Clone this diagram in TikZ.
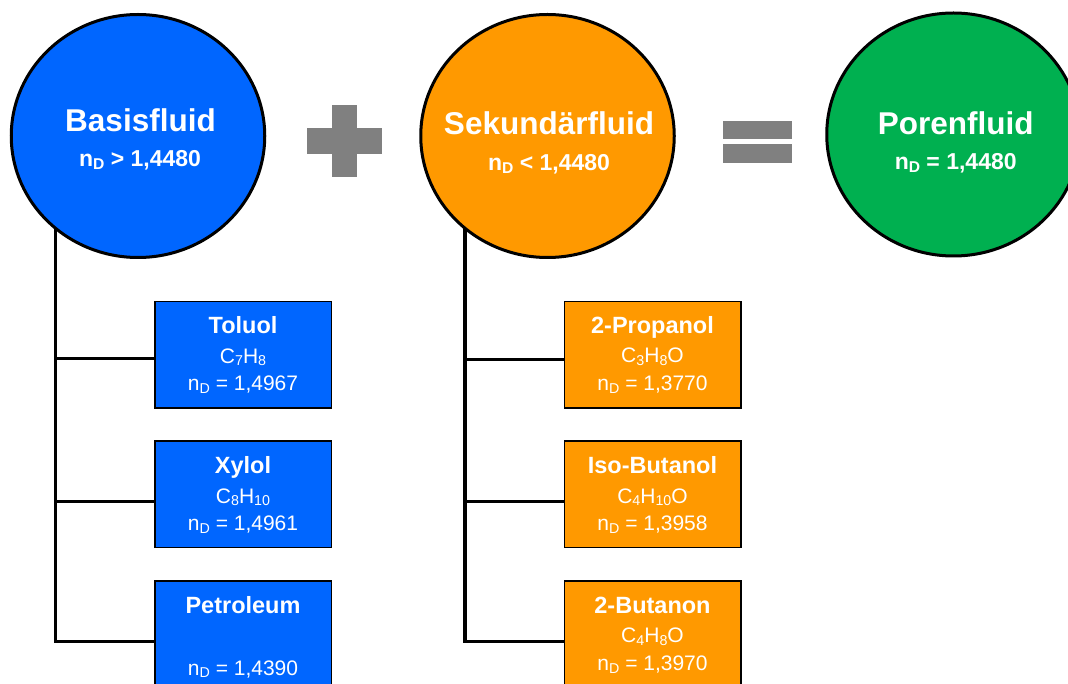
\documentclass[tikz,border=0pt]{standalone}
\usepackage{fontspec}
\setmainfont{Liberation Sans}
\usetikzlibrary{shapes.geometric,backgrounds}
\definecolor{cblue}{HTML}{0066FF}
\definecolor{corange}{HTML}{FF9900}
\definecolor{cgreen}{HTML}{00B050}
\definecolor{cgray}{HTML}{808080}
\newcommand{\lowr}[1]{\raisebox{-0.12em}{\scalebox{0.68}{#1}}}
\begin{document}
\begin{tikzpicture}[x=1pt,y=-1pt,
  fluid/.style={ellipse, draw=black, line width=3pt, minimum width=253.5pt, minimum height=243pt, inner sep=0pt},
  fbox/.style={rectangle, draw=black, line width=1.5pt, minimum width=176.5pt, minimum height=106.5pt, inner sep=0pt},
  tree/.style={line width=3.3pt, line join=miter, draw=black},
  ctitle/.style={text=white, font=\fontsize{31.5}{36}\selectfont\bfseries, anchor=base, inner sep=0pt},
  cval/.style={text=white, font=\fontsize{23}{27}\selectfont\bfseries, anchor=base, inner sep=0pt},
  btitle/.style={text=white, font=\fontsize{23.5}{27}\selectfont\bfseries, anchor=base, inner sep=0pt},
  bval/.style={text=white, font=\fontsize{21}{25}\selectfont, anchor=base, inner sep=0pt},
  sign/.style={fill=cgray}]
\clip (0,0) rectangle (1068,684);

% main circles
\node[fluid, fill=cblue] (basis) at (138,136) {};
\node[fluid, fill=corange] (sek) at (547.5,136) {};
\node[fluid, fill=cgreen] (poren) at (953.5,134.5) {};

\node[ctitle] (basisT) at (140.5,131.5) {Basisfluid};
\node[cval] (basisV) at (140,166.7) {n\lowr{D} > 1,4480};
\node[ctitle] (sekT) at (549,135) {Sekundärfluid};
\node[cval] (sekV) at (549,170.7) {n\lowr{D} < 1,4480};
\node[ctitle] (porenT) at (955.8,135) {Porenfluid};
\node[cval] (porenV) at (955.7,170) {n\lowr{D} = 1,4480};

% plus and equals signs
\fill[sign] (331.7,105) rectangle (356.7,177);
\fill[sign] (306.7,128.3) rectangle (381.7,154);
\fill[sign] (723.3,120.7) rectangle (791.7,139.3);
\fill[sign] (723.3,144.3) rectangle (791.7,163.3);

% blue boxes
\node[fbox, fill=cblue] (tol) at (243,354.7) {};
\node[btitle] (tolT) at ([yshift=-32.6pt]tol.north) {Toluol};
\node[bval] (tolF) at ([yshift=-62.4pt]tol.north) {C\lowr{7}H\lowr{8}};
\node[bval] (tolV) at ([yshift=-90pt]tol.north) {n\lowr{D} = 1,4967};

\node[fbox, fill=cblue] (xyl) at (243,494) {};
\node[btitle] (xylT) at ([yshift=-33.3pt]xyl.north) {Xylol};
\node[bval] (xylF) at ([yshift=-63.3pt]xyl.north) {C\lowr{8}H\lowr{10}};
\node[bval] (xylV) at ([yshift=-90.5pt]xyl.north) {n\lowr{D} = 1,4961};

\node[fbox, fill=cblue] (pet) at (243,634) {};
\node[btitle] (petT) at ([yshift=-33.3pt]pet.north) {Petroleum};
\node[bval] (petV) at ([yshift=-95pt]pet.north) {n\lowr{D} = 1,4390};

% orange boxes
\node[fbox, fill=corange] (pro) at (652.5,354.7) {};
\node[btitle] (proT) at ([yshift=-32.6pt]pro.north) {2-Propanol};
\node[bval] (proF) at ([yshift=-62pt]pro.north) {C\lowr{3}H\lowr{8}O};
\node[bval] (proV) at ([yshift=-90pt]pro.north) {n\lowr{D} = 1,3770};

\node[fbox, fill=corange] (iso) at (652.5,494) {};
\node[btitle] (isoT) at ([yshift=-33.3pt]iso.north) {Iso-Butanol};
\node[bval] (isoF) at ([yshift=-63.3pt]iso.north) {C\lowr{4}H\lowr{10}O};
\node[bval] (isoV) at ([yshift=-90.5pt]iso.north) {n\lowr{D} = 1,3958};

\node[fbox, fill=corange] (but) at (652.5,634) {};
\node[btitle] (butT) at ([yshift=-33.3pt]but.north) {2-Butanon};
\node[bval] (butF) at ([yshift=-62.7pt]but.north) {C\lowr{4}H\lowr{8}O};
\node[bval] (butV) at ([yshift=-90.7pt]but.north) {n\lowr{D} = 1,3970};

% tree connectors
\begin{scope}[on background layer]
\coordinate (bsp) at ([xshift=-82.5pt]basis.center);
\coordinate (b1) at ([yshift=-3.8pt]tol.west);
\coordinate (b2) at ([yshift=-7.7pt]xyl.west);
\coordinate (b3) at ([yshift=-7.7pt]pet.west);
\draw[tree] (bsp) |- (b3);
\draw[tree] (b1 -| bsp) -- (b1);
\draw[tree] (b2 -| bsp) -- (b2);

\coordinate (osp) at ([xshift=-82.5pt]sek.center);
\coordinate (o1) at ([yshift=-4.5pt]pro.west);
\coordinate (o2) at ([yshift=-7.7pt]iso.west);
\coordinate (o3) at ([yshift=-7.7pt]but.west);
\draw[tree] (osp) |- (o3);
\draw[tree] (o1 -| osp) -- (o1);
\draw[tree] (o2 -| osp) -- (o2);
\end{scope}
\end{tikzpicture}
\end{document}
